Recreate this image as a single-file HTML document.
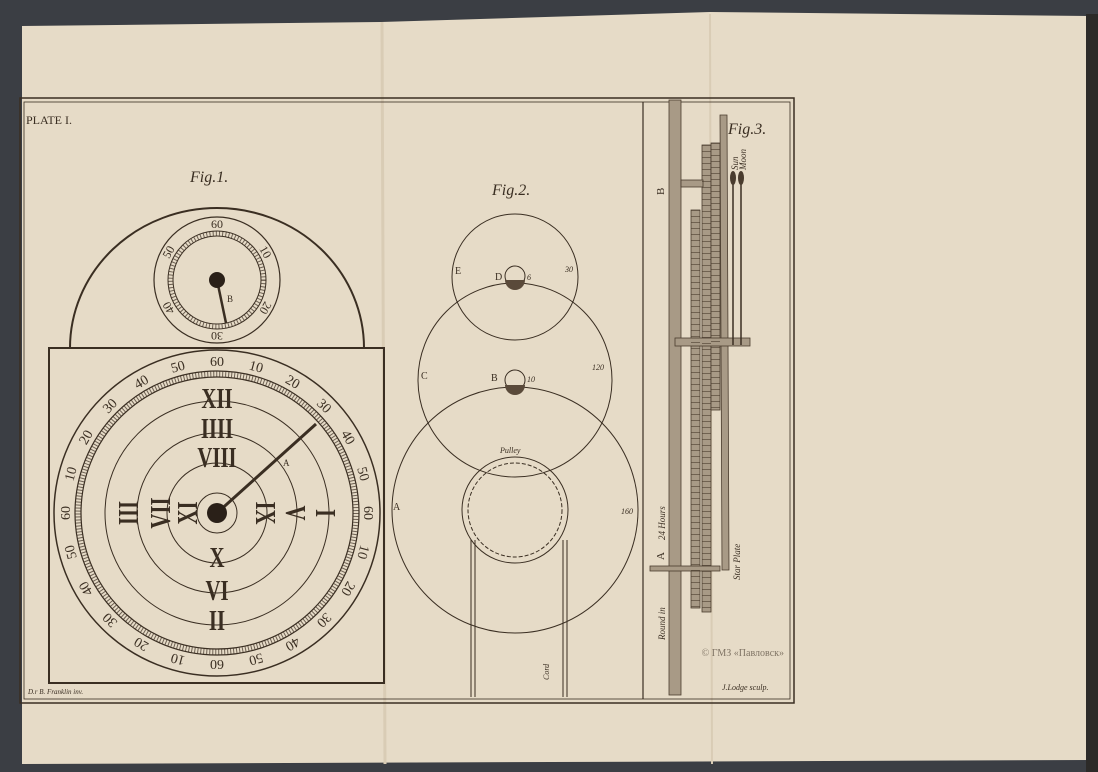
<!DOCTYPE html>
<html><head><meta charset="utf-8"><style>
html,body{margin:0;padding:0;background:#3b3e44;}
svg{display:block}
text{font-family:"Liberation Serif",serif;fill:#3a2e22}
</style></head><body>
<svg width="1098" height="772" viewBox="0 0 1098 772" xmlns="http://www.w3.org/2000/svg">
<rect width="1098" height="772" fill="#3b3e44"/>
<polygon points="22,26 380,22 710,12 1088,16 1090,760 22,764" fill="#e6dbc7"/>
<rect x="1086" y="14" width="12" height="758" fill="#2c2a28"/>
<line x1="382" y1="22" x2="385" y2="764" stroke="#d9ccb5" stroke-width="3"/>
<line x1="710" y1="14" x2="712" y2="764" stroke="#d9ccb5" stroke-width="2"/>
<g stroke="#3a2e22" fill="none">
<rect x="20" y="98" width="774" height="605" stroke-width="1.5"/>
<rect x="24" y="102" width="766" height="597" stroke-width="0.8"/>
<line x1="643" y1="102" x2="643" y2="699" stroke-width="1.2"/>
</g>
<text x="26" y="124" font-size="12">PLATE I.</text>
<text x="190" y="182" font-size="16" font-style="italic">Fig.1.</text>
<text x="492" y="195" font-size="16" font-style="italic">Fig.2.</text>
<text x="728" y="134" font-size="16" font-style="italic">Fig.3.</text>
<text x="28" y="694" font-size="7" font-style="italic">D.r B. Franklin inv.</text>
<text x="722" y="690" font-size="8" font-style="italic">J.Lodge sculp.</text>
<!-- Fig 1 -->
<g stroke="#3a2e22" fill="none">
<path d="M70,348 A147,140 0 0 1 364,348" stroke-width="2"/>
<rect x="49" y="348" width="335" height="335" stroke-width="2"/>
<circle cx="217" cy="280" r="63" stroke-width="1.2"/>
<circle cx="217" cy="280" r="49" stroke-width="1"/>
<circle cx="217" cy="280" r="44" stroke-width="1"/>
<circle cx="217" cy="280" r="46.5" stroke-width="4.5" stroke-dasharray="1 2.2" stroke-opacity="0.7"/>
<circle cx="217" cy="513" r="163" stroke-width="1.5"/>
<circle cx="217" cy="513" r="142" stroke-width="1.2"/>
<circle cx="217" cy="513" r="136" stroke-width="1.2"/>
<circle cx="217" cy="513" r="139" stroke-width="5" stroke-dasharray="1 2" stroke-opacity="0.7"/>
<circle cx="217" cy="513" r="112" stroke-width="1"/>
<circle cx="217" cy="513" r="80" stroke-width="1"/>
<circle cx="217" cy="513" r="50" stroke-width="1"/>
<circle cx="217" cy="513" r="20" stroke-width="1"/>
<line x1="217" y1="513" x2="316" y2="424" stroke-width="3"/>
<line x1="217" y1="280" x2="226" y2="323" stroke-width="2.5"/>
</g>
<circle cx="217" cy="513" r="10" fill="#2a2018"/>
<circle cx="217" cy="280" r="8" fill="#2a2018"/>
<text x="227" y="302" font-size="9">B</text>
<text x="283" y="466" font-size="9">A</text>
<g font-size="26" font-weight="bold" text-anchor="middle">
<text transform="translate(217,408) scale(0.8,1.1)">XII</text>
<text transform="translate(217,438) scale(0.8,1.1)">IIII</text>
<text transform="translate(217,467) scale(0.8,1.1)">VIII</text>
<text transform="translate(217,567) scale(0.8,1.1)">X</text>
<text transform="translate(217,600) scale(0.8,1.1)">VI</text>
<text transform="translate(217,630) scale(0.8,1.1)">II</text>
<text transform="translate(128,513) rotate(-90) scale(0.8,1.1) translate(0,9)">III</text>
<text transform="translate(160,513) rotate(-90) scale(0.8,1.1) translate(0,9)">VII</text>
<text transform="translate(187,513) rotate(-90) scale(0.8,1.1) translate(0,9)">XI</text>
<text transform="translate(266,513) rotate(90) scale(0.8,1.1) translate(0,9)">IX</text>
<text transform="translate(296,513) rotate(90) scale(0.8,1.1) translate(0,9)">V</text>
<text transform="translate(326,513) rotate(90) scale(0.8,1.1) translate(0,9)">I</text>
</g>
<g font-size="14" text-anchor="middle">
<text x="217" y="366">60</text>
<text x="217" y="366" transform="rotate(15 217 513)">10</text>
<text x="217" y="366" transform="rotate(30 217 513)">20</text>
<text x="217" y="366" transform="rotate(45 217 513)">30</text>
<text x="217" y="366" transform="rotate(60 217 513)">40</text>
<text x="217" y="366" transform="rotate(75 217 513)">50</text>
<text x="217" y="366" transform="rotate(90 217 513)">60</text>
<text x="217" y="366" transform="rotate(105 217 513)">10</text>
<text x="217" y="366" transform="rotate(120 217 513)">20</text>
<text x="217" y="366" transform="rotate(135 217 513)">30</text>
<text x="217" y="366" transform="rotate(150 217 513)">40</text>
<text x="217" y="366" transform="rotate(165 217 513)">50</text>
<text x="217" y="366" transform="rotate(180 217 513)">60</text>
<text x="217" y="366" transform="rotate(195 217 513)">10</text>
<text x="217" y="366" transform="rotate(210 217 513)">20</text>
<text x="217" y="366" transform="rotate(225 217 513)">30</text>
<text x="217" y="366" transform="rotate(240 217 513)">40</text>
<text x="217" y="366" transform="rotate(255 217 513)">50</text>
<text x="217" y="366" transform="rotate(270 217 513)">60</text>
<text x="217" y="366" transform="rotate(285 217 513)">10</text>
<text x="217" y="366" transform="rotate(300 217 513)">20</text>
<text x="217" y="366" transform="rotate(315 217 513)">30</text>
<text x="217" y="366" transform="rotate(330 217 513)">40</text>
<text x="217" y="366" transform="rotate(345 217 513)">50</text>
</g>
<g font-size="12" text-anchor="middle">
<text x="217" y="228">60</text>
<text x="217" y="228" transform="rotate(60 217 280)">10</text>
<text x="217" y="228" transform="rotate(120 217 280)">20</text>
<text x="217" y="228" transform="rotate(180 217 280)">30</text>
<text x="217" y="228" transform="rotate(240 217 280)">40</text>
<text x="217" y="228" transform="rotate(300 217 280)">50</text>
</g>
<!-- Fig 2 -->
<g stroke="#3a2e22" fill="none" stroke-width="1">
<circle cx="515" cy="277" r="63"/>
<circle cx="515" cy="380" r="97"/>
<circle cx="515" cy="510" r="123"/>
<circle cx="515" cy="510" r="53"/>
<circle cx="515" cy="510" r="47" stroke-dasharray="4 2"/>
<line x1="471" y1="540" x2="471" y2="697"/><line x1="475" y1="540" x2="475" y2="697"/>
<line x1="563" y1="540" x2="563" y2="697"/><line x1="567" y1="540" x2="567" y2="697"/>
<circle cx="515" cy="276" r="10"/><circle cx="515" cy="380" r="10"/>
</g>
<path d="M505,280 A10,10 0 0 0 525,280Z" fill="#5a4a3a"/>
<path d="M505,385 A10,10 0 0 0 525,385Z" fill="#5a4a3a"/>
<g font-size="10"><text x="455" y="274">E</text><text x="495" y="280">D</text><text x="421" y="379">C</text><text x="491" y="381">B</text><text x="393" y="510">A</text></g>
<g font-size="8" font-style="italic"><text x="527" y="280">6</text><text x="565" y="272">30</text><text x="527" y="382">10</text><text x="592" y="370">120</text><text x="621" y="514">160</text><text x="500" y="453">Pulley</text></g>
<text transform="translate(549,680) rotate(-90)" font-size="8" font-style="italic">Cord</text>
<!-- Fig 3 -->
<g fill="#a89a86" stroke="#4a3c2e" stroke-width="0.8">
<rect x="669" y="100" width="12" height="595"/>
<rect x="691" y="210" width="9" height="398"/>
<rect x="702" y="145" width="9" height="467"/>
<rect x="711" y="143" width="9" height="267"/>
<polygon points="720,115 727,115 729,570 722,570"/>
<rect x="681" y="180" width="22" height="7"/>
<rect x="650" y="566" width="70" height="5"/>
<rect x="675" y="338" width="75" height="8"/>
</g>
<g stroke="#4a3c2e" stroke-dasharray="0.7 5.3" stroke-opacity="0.8">
<line x1="695.5" y1="210" x2="695.5" y2="608" stroke-width="9"/>
<line x1="706.5" y1="145" x2="706.5" y2="612" stroke-width="9"/>
<line x1="715.5" y1="143" x2="715.5" y2="410" stroke-width="9"/>
</g>
<g stroke="#3a2e22" stroke-width="1.5"><line x1="733" y1="175" x2="733" y2="345"/><line x1="741" y1="175" x2="741" y2="345"/></g>
<ellipse cx="733" cy="178" rx="3" ry="7" fill="#4a3c2e"/><ellipse cx="741" cy="178" rx="3" ry="7" fill="#4a3c2e"/>
<g font-style="italic" font-size="9">
<text transform="translate(665,640) rotate(-90)">Round in</text>
<text transform="translate(665,540) rotate(-90)">24 Hours</text>
<text transform="translate(740,580) rotate(-90)">Star Plate</text>
<text transform="translate(738,170) rotate(-90)">Sun</text>
<text transform="translate(746,170) rotate(-90)">Moon</text>
</g>
<g font-size="11"><text transform="translate(664,195) rotate(-90)">B</text><text transform="translate(664,560) rotate(-90)">A</text></g>
<text x="784" y="656" font-size="10" fill="#f2ece2" opacity="0.6" text-anchor="end">© ГМЗ «Павловск»</text>
</svg>
</body></html>
